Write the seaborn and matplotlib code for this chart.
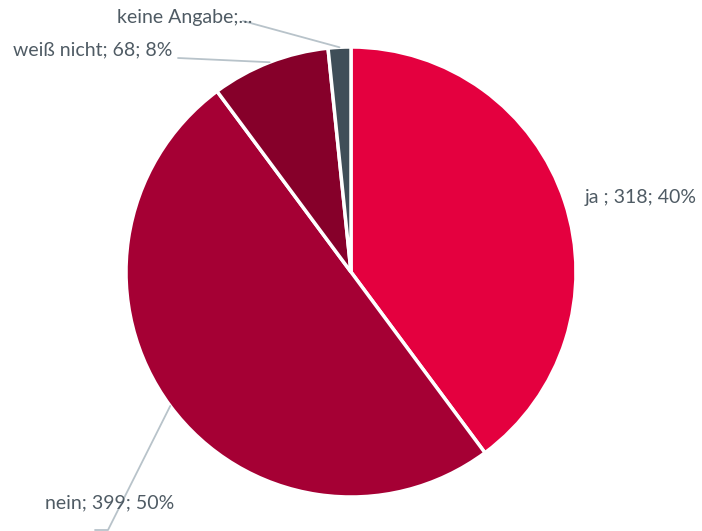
import numpy as np
import matplotlib.pyplot as plt
import seaborn as sns

# Daten
kategorien = ["ja ", "nein", "weiß nicht", "keine Angabe"]
werte = [318, 399, 68, 13]
prozent = ["40%", "50%", "8%", "2%"]
farben = ["#E4003F", "#A50034", "#86002A", "#3F4E58"]

sns.set_theme(style="white")
plt.rcParams["font.family"] = ["Lato", "DejaVu Sans"]

W, H = 702, 531
fig = plt.figure(figsize=(W / 100, H / 100), dpi=100)
ax = fig.add_axes([0, 0, 1, 1])

cx, cy, r = 351, H - 272, 225
wedges, _ = ax.pie(
    werte, colors=farben, startangle=90, counterclock=False,
    center=(cx, cy), radius=r,
    wedgeprops=dict(edgecolor="white", linewidth=2.5),
)
ax.set_xlim(0, W)
ax.set_ylim(0, H)
ax.set_aspect("equal")
ax.axis("off")

textfarbe = "#4F5B64"
linienfarbe = "#B8C3CA"
labels = [f"{k}; {v}; {p}" for k, v, p in zip(kategorien, werte, prozent)]
labels[3] = "keine Angabe;..."


def punkt(w):
    ang = np.deg2rad((w.theta1 + w.theta2) / 2)
    return cx + r * np.cos(ang), cy + r * np.sin(ang)


fs = 14
ax.text(585, H - 198, labels[0], color=textfarbe, fontsize=fs, va="center", ha="left")

x, y = punkt(wedges[1])
ax.text(45, H - 503, labels[1], color=textfarbe, fontsize=fs, va="center", ha="left")
ax.plot([x, 108, 95], [y, H - 530, H - 530], color=linienfarbe, lw=1.3)

x, y = punkt(wedges[2])
ax.text(13, H - 50, labels[2], color=textfarbe, fontsize=fs, va="center", ha="left")
ax.plot([178, x], [H - 58, y], color=linienfarbe, lw=1.3)

x, y = punkt(wedges[3])
ax.text(117, H - 18, labels[3], color=textfarbe, fontsize=fs, va="center", ha="left")
ax.plot([243, x], [H - 21, y], color=linienfarbe, lw=1.3)

fig.savefig("out.png", dpi=100)
